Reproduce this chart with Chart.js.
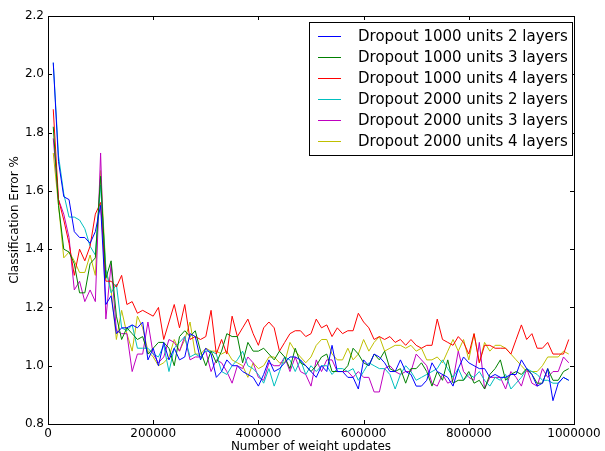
<!DOCTYPE html>
<html lang="en">
<head>
  <meta charset="UTF-8" />
  <title>Classification error vs weight updates</title>
  <script src="https://cdn.jsdelivr.net/npm/chart.js"></script>
  <style>
    body {
      margin: 0;
      background: #ffffff;
    }
    canvas {
      display: block;
    }
  </style>
</head>
<body>
  <canvas id="errChart" width="605" height="451"></canvas>

  <script>
    // one point every 10000 weight updates
    const updates = Array.from({ length: 99 }, (_, i) => (i + 1) * 10000);

    const seriesNames = [
      'Dropout 1000 units 2 layers',
      'Dropout 1000 units 3 layers',
      'Dropout 1000 units 4 layers',
      'Dropout 2000 units 2 layers',
      'Dropout 2000 units 3 layers',
      'Dropout 2000 units 4 layers'
    ];

    const seriesColors = ['#0000ff', '#008000', '#ff0000', '#00bfbf', '#bf00bf', '#bfbf00'];

    const xTicks = [0, 200000, 400000, 600000, 800000, 1000000];
    const yTicks = [0.8, 1.0, 1.2, 1.4, 1.6, 1.8, 2.0, 2.2];

    const d1000x2 = [
      2.04, 1.70, 1.58, 1.57, 1.46, 1.44, 1.44, 1.42, 1.46, 1.55,
      1.21, 1.24, 1.11, 1.13, 1.13, 1.14, 1.13, 1.15, 1.02, 1.06,
      1.00, 1.08, 1.02, 1.06, 1.02, 1.03, 1.11, 1.10, 1.02, 1.06,
      1.04, 0.96, 0.98, 1.02, 1.00, 1.00, 0.98, 0.97, 0.96, 0.93,
      0.97, 1.02, 0.98, 0.99, 1.01, 1.03, 1.03, 1.02, 1.00, 0.98,
      0.96, 1.00, 0.98, 1.07, 0.98, 0.98, 0.96, 0.96, 0.92, 1.02,
      1.00, 1.04, 1.03, 1.01, 0.98, 0.98, 1.02, 0.98, 0.97, 0.93,
      0.93, 0.95, 1.01, 0.98, 0.97, 0.96, 0.93, 0.99, 1.03, 1.01,
      1.00, 0.99, 0.99, 0.96, 0.97, 0.96, 0.96, 0.97, 0.97, 1.02,
      0.99, 0.97, 0.93, 0.94, 0.99, 0.88, 0.94, 0.96, 0.95
    ];

    const d1000x3 = [
      1.82, 1.55, 1.40, 1.39, 1.35, 1.25, 1.25, 1.35, 1.37, 1.65,
      1.30, 1.36, 1.17, 1.09, 1.13, 1.11, 1.09, 1.10, 1.04, 1.06,
      1.08, 1.08, 1.06, 1.00, 1.10, 1.12, 1.10, 1.12, 1.05, 1.00,
      1.05, 1.01, 1.05, 1.11, 1.10, 1.10, 1.01, 1.08, 1.05, 1.05,
      1.06, 1.04, 1.02, 1.05, 1.03, 0.99, 1.06, 1.01, 1.00, 0.98,
      1.00, 1.03, 1.04, 0.98, 0.98, 0.98, 1.00, 1.06, 1.04, 1.01,
      1.00, 1.04, 1.02, 1.05, 0.99, 0.98, 0.99, 0.94, 0.99, 0.99,
      1.01, 0.98, 0.93, 0.98, 0.95, 1.02, 0.94, 0.95, 0.95, 0.98,
      0.94, 0.95, 0.92, 0.97, 0.99, 1.02, 0.95, 0.97, 0.98, 0.97,
      0.99, 0.97, 0.94, 0.94, 0.99, 0.95, 0.95, 0.98, 0.99
    ];

    const d1000x4 = [
      1.88, 1.57, 1.50, 1.42, 1.31, 1.40, 1.36, 1.41, 1.52, 1.56,
      1.29, 1.29, 1.27, 1.31, 1.21, 1.22, 1.18, 1.19, 1.18, 1.17,
      1.20, 1.09, 1.15, 1.21, 1.13, 1.21, 1.09, 1.10, 1.09, 1.10,
      1.19, 1.04, 1.09, 1.04, 1.17, 1.10, 1.13, 1.16, 1.11, 1.07,
      1.13, 1.15, 1.13, 1.05, 1.08, 1.11, 1.12, 1.12, 1.10, 1.11,
      1.16, 1.13, 1.14, 1.10, 1.13, 1.11, 1.12, 1.12, 1.18, 1.15,
      1.13, 1.09, 1.10, 1.09, 1.10, 1.08, 1.09, 1.07, 1.09, 1.07,
      1.06, 1.07, 1.07, 1.16, 1.09, 1.08, 1.07, 1.10, 1.08, 1.04,
      1.11, 1.01, 1.07, 1.07, 1.06, 1.06, 1.06, 1.04, 1.09, 1.14,
      1.09, 1.11, 1.06, 1.06, 1.08, 1.04, 1.04, 1.04, 1.09
    ];

    const d2000x2 = [
      2.04, 1.72, 1.59, 1.51, 1.51, 1.50, 1.47, 1.41, 1.38, 1.62,
      1.33, 1.25, 1.28, 1.13, 1.12, 1.14, 1.06, 1.06, 1.06, 1.04,
      1.03, 1.07, 0.98, 1.06, 1.08, 1.10, 1.03, 1.04, 1.03, 1.05,
      1.05, 1.04, 0.98, 0.97, 1.00, 1.02, 1.05, 1.00, 0.99, 0.97,
      0.94, 0.99, 0.93, 0.98, 1.03, 1.02, 0.98, 1.02, 0.97, 1.00,
      0.98, 1.00, 1.00, 0.97, 0.99, 0.99, 0.98, 0.99, 0.95, 0.98,
      1.01, 1.00, 0.99, 0.99, 0.97, 0.92, 0.97, 1.00, 0.98, 0.95,
      0.96, 0.97, 0.98, 0.99, 1.02, 0.99, 0.96, 0.99, 0.95, 0.97,
      0.96, 0.98, 0.95, 0.93, 0.96, 0.95, 0.97, 0.92, 0.94, 0.96,
      0.99, 0.98, 0.97, 0.95, 0.95, 0.94, 0.94, 0.96, 0.95
    ];

    const d2000x3 = [
      1.78, 1.57, 1.52, 1.44, 1.26, 1.29, 1.22, 1.26, 1.22, 1.73,
      1.16, 1.35, 1.12, 1.11, 1.11, 0.98, 1.04, 1.04, 1.15, 1.04,
      1.01, 1.03, 1.09, 1.08, 1.05, 1.10, 1.02, 1.03, 1.03, 1.05,
      0.98, 1.02, 1.01, 0.98, 0.94, 1.00, 0.99, 1.03, 1.01, 0.96,
      0.95, 1.01, 1.00, 1.00, 1.03, 0.98, 1.03, 0.98, 0.97, 0.93,
      1.02, 0.98, 1.02, 1.02, 0.98, 0.98, 0.98, 0.96, 0.98, 0.96,
      0.96, 0.91, 0.91, 0.99, 1.00, 0.98, 0.97, 0.98, 0.98, 1.04,
      1.02, 1.00, 0.94, 0.93, 0.97, 0.94, 0.95, 1.05, 0.98, 0.96,
      0.95, 1.08, 0.92, 0.96, 0.96, 0.96, 0.92, 0.98, 0.96, 0.93,
      0.99, 0.94, 0.93, 0.99, 0.96, 0.98, 0.98, 1.03, 1.01
    ];

    const d2000x4 = [
      1.73, 1.55, 1.37, 1.39, 1.36, 1.32, 1.32, 1.38, 1.31, 1.67,
      1.33, 1.26, 1.09, 1.19, 1.11, 1.05, 1.17, 1.13, 1.05, 1.03,
      1.00, 1.01, 1.03, 1.09, 1.05, 1.09, 1.15, 1.04, 1.04, 1.06,
      1.05, 1.05, 1.04, 1.05, 1.02, 1.01, 1.00, 0.96, 1.01, 0.99,
      1.00, 1.03, 1.03, 1.01, 1.01, 1.08, 1.05, 1.03, 1.01, 1.03,
      1.07, 1.09, 1.09, 1.04, 1.02, 1.02, 1.06, 1.02, 1.04, 1.09,
      1.05, 1.08, 1.10, 1.05, 1.06, 1.07, 1.07, 1.06, 1.07, 1.05,
      1.06, 1.02, 1.02, 1.03, 1.01, 1.05, 1.09, 1.05, 1.09, 1.02,
      1.11, 1.01, 1.08, 1.05, 1.07, 1.07, 1.06, 1.04, 1.02, 1.00,
      0.98, 0.98, 0.98, 1.00, 1.03, 1.03, 1.03, 1.05, 1.04
    ];

    const allSeries = [d1000x2, d1000x3, d1000x4, d2000x2, d2000x3, d2000x4];

    const FONT = "'DejaVu Sans', sans-serif";

    // frame, inward ticks on all four sides, and the boxed legend
    const mplStyle = {
      id: 'mplStyle',
      afterDatasetsDraw(chart) {
        const { ctx, chartArea: a, scales } = chart;
        ctx.save();
        ctx.strokeStyle = '#000';
        ctx.lineWidth = 1;
        ctx.strokeRect(Math.round(a.left) + 0.5, Math.round(a.top) + 0.5,
          Math.round(a.right - a.left), Math.round(a.bottom - a.top));

        const tl = 4;
        ctx.beginPath();
        xTicks.forEach(v => {
          const px = Math.round(scales.x.getPixelForValue(v)) + 0.5;
          ctx.moveTo(px, a.bottom); ctx.lineTo(px, a.bottom - tl);
          ctx.moveTo(px, a.top); ctx.lineTo(px, a.top + tl);
        });
        yTicks.forEach(v => {
          const py = Math.round(scales.y.getPixelForValue(v)) + 0.5;
          ctx.moveTo(a.left, py); ctx.lineTo(a.left + tl, py);
          ctx.moveTo(a.right, py); ctx.lineTo(a.right - tl, py);
        });
        ctx.stroke();

        // legend
        const bx = 309.5, by = 22.5, bw = 263, bh = 133;
        ctx.fillStyle = '#fff';
        ctx.fillRect(bx, by, bw, bh);
        ctx.strokeStyle = '#000';
        ctx.strokeRect(bx, by, bw, bh);
        ctx.font = '15px ' + FONT;
        ctx.textBaseline = 'middle';
        ctx.textAlign = 'left';
        seriesNames.forEach((name, i) => {
          const y = 36 + i * 21;
          ctx.strokeStyle = seriesColors[i];
          ctx.beginPath();
          ctx.moveTo(318, y + 0.5);
          ctx.lineTo(341, y + 0.5);
          ctx.stroke();
          ctx.fillStyle = '#000';
          ctx.fillText(name, 358, y + 1);
        });
        ctx.restore();
      }
    };

    const ctx = document.getElementById('errChart').getContext('2d');
    new Chart(ctx, {
      type: 'line',
      data: {
        datasets: allSeries.map((vals, i) => ({
          label: seriesNames[i],
          data: vals.map((v, j) => ({ x: updates[j], y: v })),
          borderColor: seriesColors[i],
          borderWidth: 1,
          pointRadius: 0,
          tension: 0,
          fill: false
        }))
      },
      options: {
        responsive: false,
        animation: false,
        layout: { padding: { top: 16, right: 31, left: 0, bottom: 0 } },
        plugins: {
          legend: { display: false },
          tooltip: { enabled: false }
        },
        scales: {
          x: {
            type: 'linear',
            min: 0,
            max: 1000000,
            afterBuildTicks: s => { s.ticks = xTicks.map(v => ({ value: v })); },
            afterFit: s => { s.height = 27; },
            grid: { display: false, drawTicks: false },
            border: { display: false },
            ticks: {
              color: '#000',
              padding: 3,
              maxRotation: 0,
              font: { family: FONT, size: 12 },
              callback: v => String(v)
            },
            title: {
              display: true,
              text: 'Number of weight updates',
              color: '#000',
              font: { family: FONT, size: 12 },
              padding: { top: 0, bottom: -3 }
            }
          },
          y: {
            min: 0.8,
            max: 2.2,
            afterBuildTicks: s => { s.ticks = yTicks.map(v => ({ value: v })); },
            afterFit: s => { s.width = 48; },
            grid: { display: false, drawTicks: false },
            border: { display: false },
            ticks: {
              color: '#000',
              padding: 4,
              font: { family: FONT, size: 12 },
              callback: v => v.toFixed(1)
            },
            title: {
              display: true,
              text: 'Classification Error %',
              color: '#000',
              font: { family: FONT, size: 12 },
              padding: { top: 8, bottom: 0 }
            }
          }
        }
      },
      plugins: [mplStyle]
    });
  </script>
</body>
</html>
